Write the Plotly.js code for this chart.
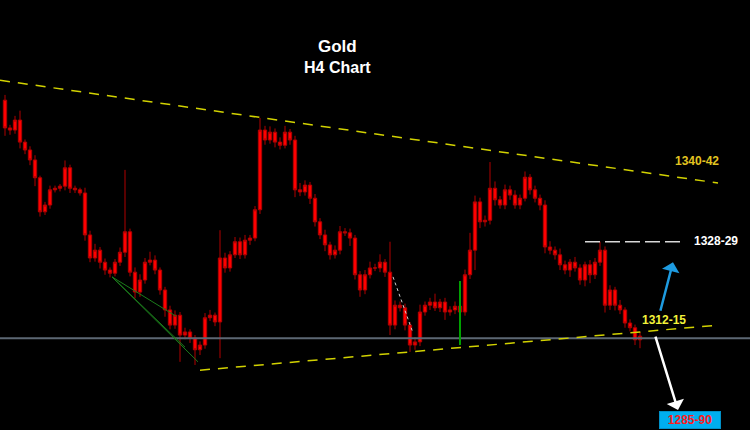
<!DOCTYPE html>
<html>
<head>
<meta charset="utf-8">
<script src="https://cdn.plot.ly/plotly-3.0.1.min.js"></script>
<style>html,body{margin:0;padding:0;background:#000;}#chart{width:750px;height:430px;}</style>
</head>
<body>
<div id="chart"></div>
<script>
// H4 bar index
const firstOpen = 1354.9;
const closes = [
1349.6,1349.2,1351.1,1346.9,1345.4,1343.5,1340.1,1333.6,1334.9,1337.8,
1338.1,1338.5,1342.0,1338.1,1337.8,1337.2,1329.2,1324.8,1326.3,1324.0,
1322.5,1321.9,1324.0,1325.9,1329.8,1322.1,1318.3,1320.6,1324.0,1324.4,
1322.5,1318.7,1314.9,1312.0,1313.9,1310.1,1310.7,1309.5,1307.3,1308.2,
1313.4,1313.9,1312.6,1324.8,1322.9,1325.4,1327.9,1325.4,1328.2,1328.6,
1334.0,1349.2,1347.3,1348.8,1346.9,1346.3,1348.8,1347.3,1337.8,1337.4,
1338.7,1336.2,1331.7,1329.2,1327.3,1325.4,1326.3,1329.8,1329.6,1328.6,
1321.6,1318.7,1321.6,1322.9,1322.9,1324.0,1322.1,1312.0,1315.8,1315.3,
1312.0,1308.2,1308.8,1314.5,1315.8,1316.4,1315.3,1316.4,1314.5,1314.9,
1315.6,1314.5,1321.6,1326.3,1335.5,1331.7,1332.0,1338.1,1335.9,1334.9,
1337.8,1336.8,1334.9,1336.2,1340.2,1337.8,1336.2,1334.9,1326.9,1326.3,
1325.4,1323.5,1322.5,1324.0,1322.9,1320.6,1323.5,1321.6,1324.0,1326.3,
1315.8,1318.7,1315.8,1314.9,1312.4,1311.5,1309.2,1309.9];
const upperWick = [
1.0,0.6,0.8,1.8,0.5,0.7,0.9,0.4,0.6,0.8,
0.5,0.4,1.4,0.6,0.5,0.4,1.0,0.8,1.2,0.6,
0.7,0.5,0.6,0.9,11.8,0.6,0.9,1.1,0.8,1.6,
0.9,0.5,0.6,0.8,0.9,0.6,0.8,0.5,0.6,0.7,
0.9,1.0,0.5,5.3,1.0,0.7,0.9,0.8,1.0,0.6,
0.7,2.3,0.8,1.1,0.7,0.9,1.2,0.6,0.8,1.3,
0.9,0.6,0.8,0.7,1.0,0.6,0.9,1.1,0.7,0.8,
0.6,0.7,0.9,1.2,0.8,1.5,0.6,5.8,0.9,0.7,
0.8,0.6,0.9,1.4,0.7,0.8,1.6,0.6,0.8,0.7,
0.9,0.6,1.0,3.3,1.2,0.8,0.9,5.0,1.3,0.7,
1.0,0.8,0.9,0.7,1.1,0.6,0.8,0.7,0.9,1.1,
0.7,1.2,0.8,0.6,1.0,0.7,0.6,0.9,0.8,1.6,
0.7,0.9,0.6,1.0,0.5,0.7,0.6,0.8];
const lowerWick = [
1.5,0.9,0.7,1.2,0.8,1.0,1.6,0.9,0.6,0.7,
0.5,0.6,0.8,0.9,0.6,0.5,1.1,0.8,0.7,1.2,
0.9,0.8,0.6,0.7,0.9,0.8,1.2,0.9,0.7,0.6,
0.8,0.9,1.3,0.8,0.7,5.1,0.8,0.9,2.9,1.0,
0.7,0.6,0.8,6.9,0.9,0.7,0.6,0.8,0.7,0.9,
0.6,0.8,0.9,0.7,1.0,0.8,0.6,0.9,1.4,0.8,
0.7,1.1,0.9,0.8,1.2,0.9,0.7,0.8,0.6,1.5,
0.9,1.3,0.8,0.7,0.6,0.8,0.9,1.9,0.8,0.7,
1.0,1.3,0.9,0.8,0.7,0.9,0.6,0.8,1.5,0.7,
0.8,0.9,0.7,0.8,3.8,1.2,0.9,0.8,1.1,0.7,
0.8,0.9,0.7,0.8,0.6,0.9,0.8,1.0,1.2,0.8,
0.9,1.0,0.8,1.3,0.7,0.9,1.2,1.6,0.8,0.7,
1.4,0.9,1.0,0.8,0.9,0.7,1.0,1.6];

// levels / labels
const levelLabels = ["1340-42", "1328-29", "1312-15", "1285-90"];
const supportLevel = 1309.5;
const resistance = 1327.9;

const xs = closes.map((c, i) => i);
const opens = closes.map((c, i) => i === 0 ? firstOpen : closes[i - 1]);
const highs = closes.map((c, i) => Math.max(opens[i], c) + upperWick[i]);
const lows = closes.map((c, i) => Math.min(opens[i], c) - lowerWick[i]);

const side = {line: {color: '#b00000', width: 1}, fillcolor: '#ff0000'};
const trace = {
  type: 'candlestick', x: xs, open: opens, high: highs, low: lows, close: closes,
  increasing: side, decreasing: side, whiskerwidth: 0, hoverinfo: 'skip'
};

const yel = {color: '#d2d200', width: 1.5, dash: '10px,8px'};
const grn = {color: '#1b7d1b', width: 1};
const shapes = [
  {type: 'line', xref: 'paper', x0: 0, x1: 1, y0: supportLevel, y1: supportLevel, line: {color: '#5c6773', width: 2}},
  {type: 'line', x0: -1, y0: 1358.7, x1: 142.6, y1: 1339.1, line: yel},
  {type: 'line', x0: 39, y0: 1303.4, x1: 142.6, y1: 1312.0, line: yel},
  {type: 'line', x0: 116, y0: resistance, x1: 136, y1: resistance, line: {color: '#d8d8d8', width: 1.5, dash: '15px,5px'}},
  {type: 'line', x0: 21.4, y0: 1321.2, x1: 38.6, y1: 1305.0, line: grn},
  {type: 'line', x0: 21.4, y0: 1321.2, x1: 36.0, y1: 1307.8, line: grn},
  {type: 'line', x0: 21.4, y0: 1321.2, x1: 34.2, y1: 1313.7, line: grn},
  {type: 'line', x0: 91, y0: 1320.4, x1: 91, y1: 1308.2, line: {color: '#00a000', width: 2}},
  {type: 'line', x0: 77.6, y0: 1321.2, x1: 81.6, y1: 1310.5, line: {color: '#cfcfcf', width: 1, dash: 'dot'}}
];

const lblFont = (c) => ({family: 'Liberation Sans, Arial, sans-serif', size: 12, color: c});
const annotations = [
  {xref: 'paper', yref: 'paper', x: 337/750, y: 1 - 35/430, text: '<b>Gold</b>', showarrow: false,
   font: {family: 'Liberation Sans, Arial, sans-serif', size: 17, color: '#ffffff'}},
  {xref: 'paper', yref: 'paper', x: 337/750, y: 1 - 57/430, text: '<b>H4 Chart</b>', showarrow: false,
   font: {family: 'Liberation Sans, Arial, sans-serif', size: 16, color: '#ffffff'}},
  {x: 138.4, y: 1343.3, text: '<b>' + levelLabels[0] + '</b>', showarrow: false, font: lblFont('#e2c420')},
  {x: 142.2, y: 1328.0, text: '<b>' + levelLabels[1] + '</b>', showarrow: false, font: lblFont('#ffffff')},
  {x: 131.8, y: 1313.0, text: '<b>' + levelLabels[2] + '</b>', showarrow: false, font: lblFont('#f2f23a')},
  {x: 137, y: 1293.9, text: '<b>' + levelLabels[3] + '</b>', showarrow: false, font: lblFont('#ff1a1a'),
   bgcolor: '#00aeef', bordercolor: '#0090c8', borderwidth: 1, borderpad: 1, width: 58},
  {x: 133.6, y: 1324.0, ax: -13, ay: 50, text: '', showarrow: true, arrowhead: 1, arrowsize: 1.2, arrowwidth: 2.5, arrowcolor: '#1e9be0'},
  {x: 134.6, y: 1295.8, ax: -23, ay: -75, text: '', showarrow: true, arrowhead: 1, arrowsize: 1.2, arrowwidth: 2.5, arrowcolor: '#ffffff'}
];

const layout = {
  width: 750, height: 430,
  margin: {l: 0, r: 0, t: 0, b: 0},
  paper_bgcolor: '#000000', plot_bgcolor: '#000000',
  showlegend: false,
  boxgap: 0.05,
  xaxis: {range: [-1, 149], visible: false, rangeslider: {visible: false}, fixedrange: true},
  yaxis: {range: [1292, 1374], visible: false, fixedrange: true},
  shapes: shapes, annotations: annotations
};
Plotly.newPlot('chart', [trace], layout, {staticPlot: true, displayModeBar: false});
</script>
</body>
</html>
